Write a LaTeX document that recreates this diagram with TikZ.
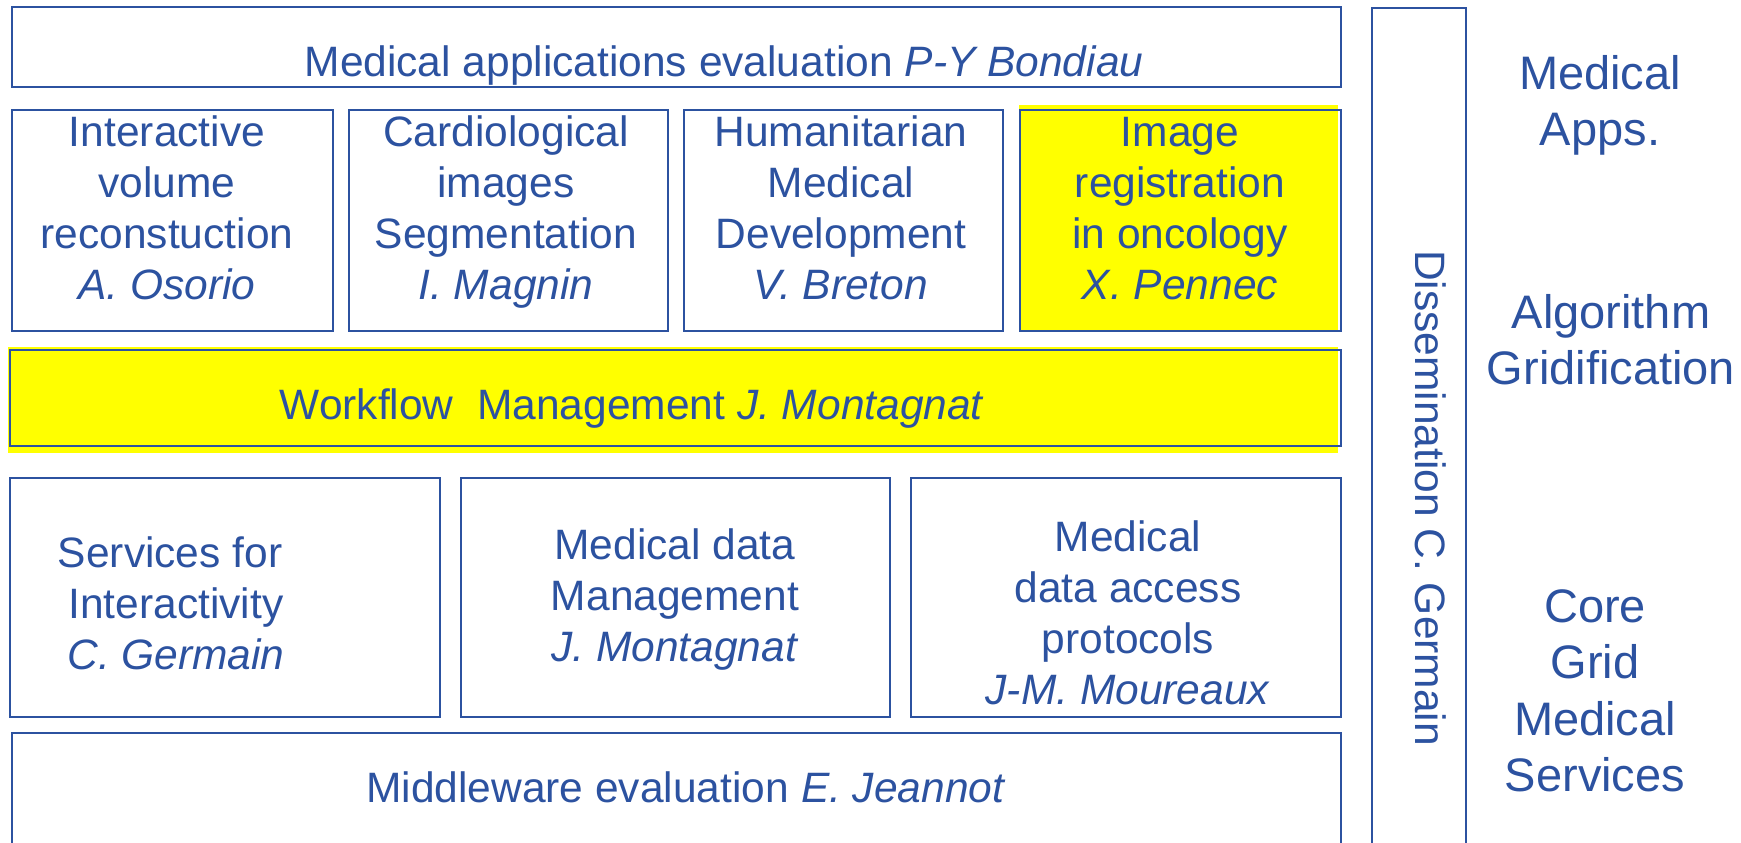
\documentclass[tikz,border=0pt]{standalone}
\usepackage{fontspec}
\setmainfont{Liberation Sans}
\definecolor{ink}{RGB}{44,82,160}
\definecolor{hl}{RGB}{255,255,0}
\tikzset{
  box/.style={draw=ink, line width=1.1pt},
  txt/.style={text=ink, inner sep=0pt, anchor=base, font=\fontsize{21.25}{25.5}\selectfont},
  side/.style={text=ink, inner sep=0pt, anchor=base, font=\fontsize{23.5}{28.25}\selectfont},
}
\newcommand{\lines}[1]{\begin{tabular}[t]{@{}c@{}}#1\end{tabular}}
\begin{document}
\begin{tikzpicture}[x=0.5pt,y=-0.5pt]
\useasboundingbox (0,0) rectangle (1741,842);
\fill[white] (0,0) rectangle (1741,842);
\clip (0,0) rectangle (1741,842);
% yellow highlights
\fill[hl] (1019,105) rectangle (1338,331);
\fill[hl] (8,347) rectangle (1338,453);
% boxes
\draw[box] (12,7) rectangle (1341,87);
\draw[box] (12,110) rectangle (333,331);
\draw[box] (349,110) rectangle (668,331);
\draw[box] (684,110) rectangle (1003,331);
\draw[box] (1020,110) rectangle (1341,331);
\draw[box] (10,350) rectangle (1341,446);
\draw[box] (10,478) rectangle (440,717);
\draw[box] (461,478) rectangle (890,717);
\draw[box] (911,478) rectangle (1341,717);
\draw[box] (12,733) rectangle (1341,860);
\draw[box] (1372,8) rectangle (1466,860);
% texts
\node[txt] (top) at (724,76) {Medical applications evaluation \textit{P-Y Bondiau}};
\node[txt] (ivr) at (167,146) {\lines{Interactive\\volume\\reconstuction\\\textit{A. Osorio}}};
\node[txt] (cis) at (506,146) {\lines{Cardiological\\images\\Segmentation\\\textit{I. Magnin}}};
\node[txt] (hmd) at (841,146) {\lines{Humanitarian\\Medical\\Development\\\textit{V. Breton}}};
\node[txt] (iro) at (1180,146) {\lines{Image\\registration\\in oncology\\\textit{X. Pennec}}};
\node[txt] (wf) at (632,419) {Workflow~ Management \textit{J. Montagnat}};
\node[txt] (sfi) at (176,567) {\lines{Services for\hphantom{\ }\\Interactivity\\\textit{C. Germain}}};
\node[txt] (mdm) at (675,559) {\lines{Medical data\\Management\\\textit{J. Montagnat}}};
\node[txt] (mda) at (1128,551) {\lines{Medical\\data access\\protocols\\\textit{J-M. Moureaux}}};
\node[txt] (mw) at (686,802) {Middleware evaluation \textit{E. Jeannot}};
\node[txt, rotate=-90] (dis) at (1415,498) {Dissemination C. Germain};
\node[side] (apps) at (1600,89) {\lines{Medical\\Apps.}};
\node[side] (alg) at (1611,328) {\lines{Algorithm\\Gridification}};
\node[side] (core) at (1595,622) {\lines{Core\\Grid\\Medical\\Services}};
\end{tikzpicture}
\end{document}
